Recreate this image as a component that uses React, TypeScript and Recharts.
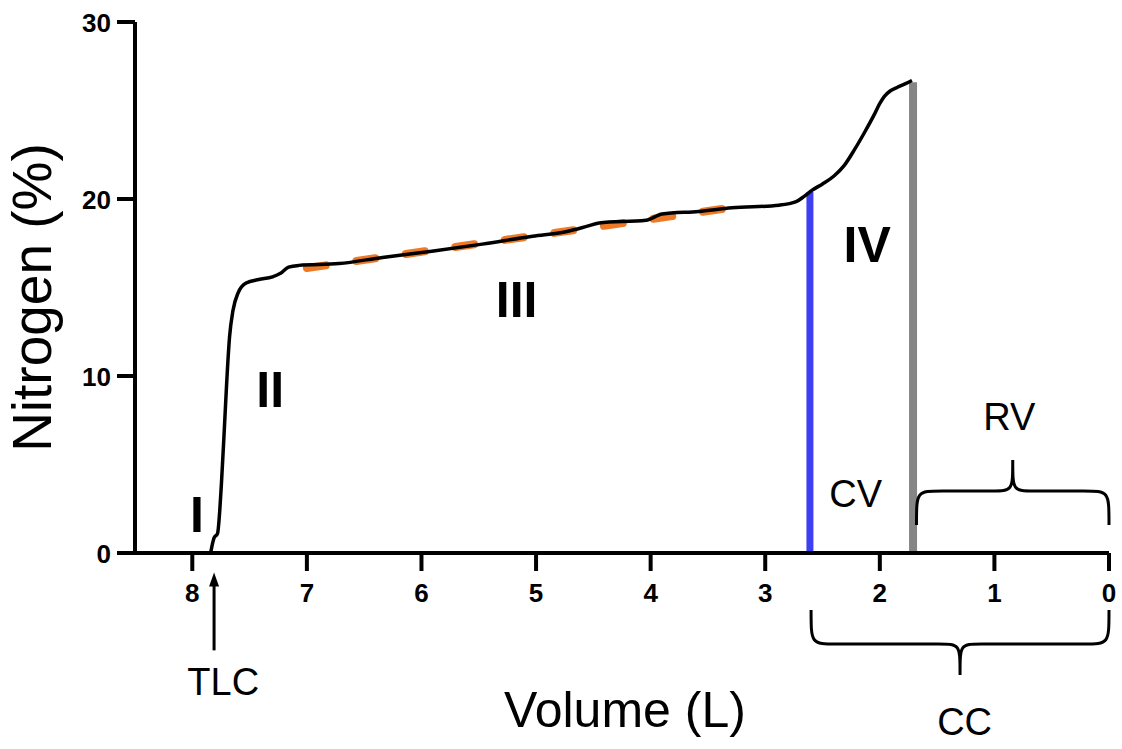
import React from "react";
import { LineChart, Line, XAxis, YAxis, ReferenceLine, ReferenceDot } from "recharts";

const FONT = '"Liberation Sans", Arial, Helvetica, sans-serif';

// single-breath nitrogen washout trace: v = volume (L), n = nitrogen (%)
const washout = [
  { v: 7.84, n: 0 },
  { v: 7.81, n: 0.85 },
  { v: 7.78, n: 1.1 },
  { v: 7.745, n: 4.0 },
  { v: 7.715, n: 7.7 },
  { v: 7.7, n: 9.6 },
  { v: 7.675, n: 12.2 },
  { v: 7.645, n: 13.7 },
  { v: 7.6, n: 14.7 },
  { v: 7.53, n: 15.25 },
  { v: 7.42, n: 15.45 },
  { v: 7.3, n: 15.6 },
  { v: 7.23, n: 15.8 },
  { v: 7.16, n: 16.15 },
  { v: 7.07, n: 16.25 },
  { v: 6.72, n: 16.35 },
  { v: 6.34, n: 16.7 },
  { v: 5.91, n: 17.05 },
  { v: 5.47, n: 17.45 },
  { v: 5.03, n: 17.9 },
  { v: 4.74, n: 18.15 },
  { v: 4.56, n: 18.45 },
  { v: 4.45, n: 18.65 },
  { v: 4.04, n: 18.8 },
  { v: 3.9, n: 19.15 },
  { v: 3.58, n: 19.3 },
  { v: 3.29, n: 19.5 },
  { v: 2.88, n: 19.65 },
  { v: 2.73, n: 19.85 },
  { v: 2.66, n: 20.15 },
  { v: 2.59, n: 20.5 },
  { v: 2.5, n: 20.85 },
  { v: 2.4, n: 21.3 },
  { v: 2.31, n: 21.9 },
  { v: 2.22, n: 22.8 },
  { v: 2.13, n: 23.8 },
  { v: 2.05, n: 24.75 },
  { v: 2.0, n: 25.4 },
  { v: 1.96, n: 25.8 },
  { v: 1.91, n: 26.1 },
  { v: 1.85, n: 26.3 },
  { v: 1.78, n: 26.5 },
  { v: 1.72, n: 26.7 },
];

// phase III regression line
const phase3Fit = [
  { v: 7.0, n: 16.1 },
  { v: 3.25, n: 19.55 },
];

const volumeTicks = [0, 1, 2, 3, 4, 5, 6, 7, 8];
const nitrogenTicks = [0, 10, 20, 30];

const closingPoint = { v: 2.61, n: 20.4 };
const residualPoint = { v: 1.71, n: 26.6 };

const phaseLabels = [
  { text: "I", v: 7.96, n: 1.19 },
  { text: "II", v: 7.32, n: 8.25 },
  { text: "III", v: 5.17, n: 13.33 },
  { text: "IV", v: 2.11, n: 16.44 },
];

const volumeLabels = [
  { text: "CV", v: 2.21, n: 2.6 },
  { text: "RV", v: 0.87, n: 6.95 },
  { text: "CC", v: 1.26, n: -10.3 },
  { text: "TLC", v: 7.73, n: -8.0 },
];

// braces: from / to volume, base level
const rvBrace = { from: 1.68, to: 0, n: 1.58 };
const ccBrace = { from: 2.6, to: 0, n: -3.22 };
const tlcArrow = { v: 7.81, from: -5.5, to: -1.1 };

function bracePath(x1: number, x2: number, y: number, dir: number) {
  const l = Math.min(x1, x2);
  const r = Math.max(x1, x2);
  const m = (l + r) / 2;
  const h1 = 34 * dir;
  const h2 = 31 * dir;
  const rx = 26;
  const mx = 22;
  const yh = y + h1;
  const yp = yh + h2;
  return [
    `M ${l} ${y}`,
    `C ${l} ${yh} ${l} ${yh} ${l + rx} ${yh}`,
    `L ${m - mx} ${yh}`,
    `C ${m} ${yh} ${m} ${yh} ${m} ${yp}`,
    `C ${m} ${yh} ${m} ${yh} ${m + mx} ${yh}`,
    `L ${r - rx} ${yh}`,
    `C ${r} ${yh} ${r} ${yh} ${r} ${y}`,
  ].join(" ");
}

const brace = (dir: number) => (props: any) => (
  <path
    d={bracePath(props.x1, props.x2, props.y1, dir)}
    fill="none"
    stroke="#000"
    strokeWidth={3}
  />
);

const arrowShape = (props: any) => {
  const x = props.x1;
  const top = Math.min(props.y1, props.y2);
  const bottom = Math.max(props.y1, props.y2);
  return (
    <g>
      <line x1={x} y1={bottom} x2={x} y2={top + 10} stroke="#000" strokeWidth={3} />
      <polygon points={`${x},${top} ${x - 5},${top + 14} ${x + 5},${top + 14}`} fill="#000" />
    </g>
  );
};

const textShape = (text: string, size: number, weight: string) => (props: any) => (
  <text
    x={props.cx}
    y={props.cy}
    textAnchor="middle"
    fontFamily={FONT}
    fontSize={size}
    fontWeight={weight}
    fill="#000"
  >
    {text}
  </text>
);

const XTick = (props: any) => (
  <text
    x={props.x}
    y={props.y + 19}
    textAnchor="middle"
    fontFamily={FONT}
    fontSize={26}
    fontWeight="bold"
    fill="#000"
  >
    {props.payload.value}
  </text>
);

const YTick = (props: any) => (
  <text
    x={props.x}
    y={props.y + 10}
    textAnchor="end"
    fontFamily={FONT}
    fontSize={26}
    fontWeight="bold"
    fill="#000"
  >
    {props.payload.value}
  </text>
);

const YTitle = (props: any) => {
  const vb = props.viewBox;
  const cx = vb.x - 24;
  const cy = vb.y + vb.height / 2 + 10;
  return (
    <text
      x={cx}
      y={cy}
      transform={`rotate(-90, ${cx}, ${cy})`}
      textAnchor="middle"
      fontFamily={FONT}
      fontSize={55}
      fill="#000"
    >
      Nitrogen (%)
    </text>
  );
};

const XTitle = (props: any) => {
  const vb = props.viewBox;
  return (
    <text
      x={vb.x + vb.width / 2 + 3}
      y={727}
      textAnchor="middle"
      fontFamily={FONT}
      fontSize={50}
      fill="#000"
    >
      Volume (L)
    </text>
  );
};

export default function App() {
  return (
    <div style={{ position: "absolute", left: 0, top: 0, width: 1122, height: 749, background: "#fff" }}>
      <LineChart width={1122} height={749} margin={{ top: 22, right: 13, bottom: 136, left: 75 }}>
        <XAxis
          type="number"
          dataKey="v"
          domain={[0, 8.5]}
          reversed
          ticks={volumeTicks}
          allowDataOverflow
          height={60}
          axisLine={{ stroke: "#000", strokeWidth: 4 }}
          tickLine={{ stroke: "#000", strokeWidth: 4 }}
          tickSize={18}
          tickMargin={12}
          tick={<XTick />}
          label={<XTitle />}
        />
        <YAxis
          type="number"
          domain={[0, 30]}
          ticks={nitrogenTicks}
          width={60}
          axisLine={{ stroke: "#000", strokeWidth: 4 }}
          tickLine={{ stroke: "#000", strokeWidth: 4 }}
          tickSize={18}
          tickMargin={6}
          tick={<YTick />}
          label={<YTitle />}
        />
        <ReferenceLine
          segment={[{ x: closingPoint.v, y: 0 }, { x: closingPoint.v, y: closingPoint.n }]}
          stroke="#3f3ff2"
          strokeWidth={7}
        />
        <ReferenceLine
          segment={[{ x: residualPoint.v, y: 0 }, { x: residualPoint.v, y: residualPoint.n }]}
          stroke="#858585"
          strokeWidth={8}
        />
        <Line
          data={phase3Fit}
          dataKey="n"
          type="linear"
          stroke="#ee7a27"
          strokeWidth={8}
          strokeDasharray="19 31"
          strokeLinecap="round"
          dot={false}
          isAnimationActive={false}
        />
        <Line
          data={washout}
          dataKey="n"
          type="monotone"
          stroke="#000"
          strokeWidth={3.5}
          dot={false}
          isAnimationActive={false}
        />
        <ReferenceLine
          segment={[{ x: rvBrace.from, y: rvBrace.n }, { x: rvBrace.to, y: rvBrace.n }]}
          ifOverflow="visible"
          shape={brace(-1)}
        />
        <ReferenceLine
          segment={[{ x: ccBrace.from, y: ccBrace.n }, { x: ccBrace.to, y: ccBrace.n }]}
          ifOverflow="visible"
          shape={brace(1)}
        />
        <ReferenceLine
          segment={[{ x: tlcArrow.v, y: tlcArrow.from }, { x: tlcArrow.v, y: tlcArrow.to }]}
          ifOverflow="visible"
          shape={arrowShape}
        />
        {phaseLabels.map((p) => (
          <ReferenceDot
            key={p.text}
            x={p.v}
            y={p.n}
            r={0}
            ifOverflow="visible"
            shape={textShape(p.text, 50, "bold")}
          />
        ))}
        {volumeLabels.map((p) => (
          <ReferenceDot
            key={p.text}
            x={p.v}
            y={p.n}
            r={0}
            ifOverflow="visible"
            shape={textShape(p.text, 38, "normal")}
          />
        ))}
      </LineChart>
    </div>
  );
}
